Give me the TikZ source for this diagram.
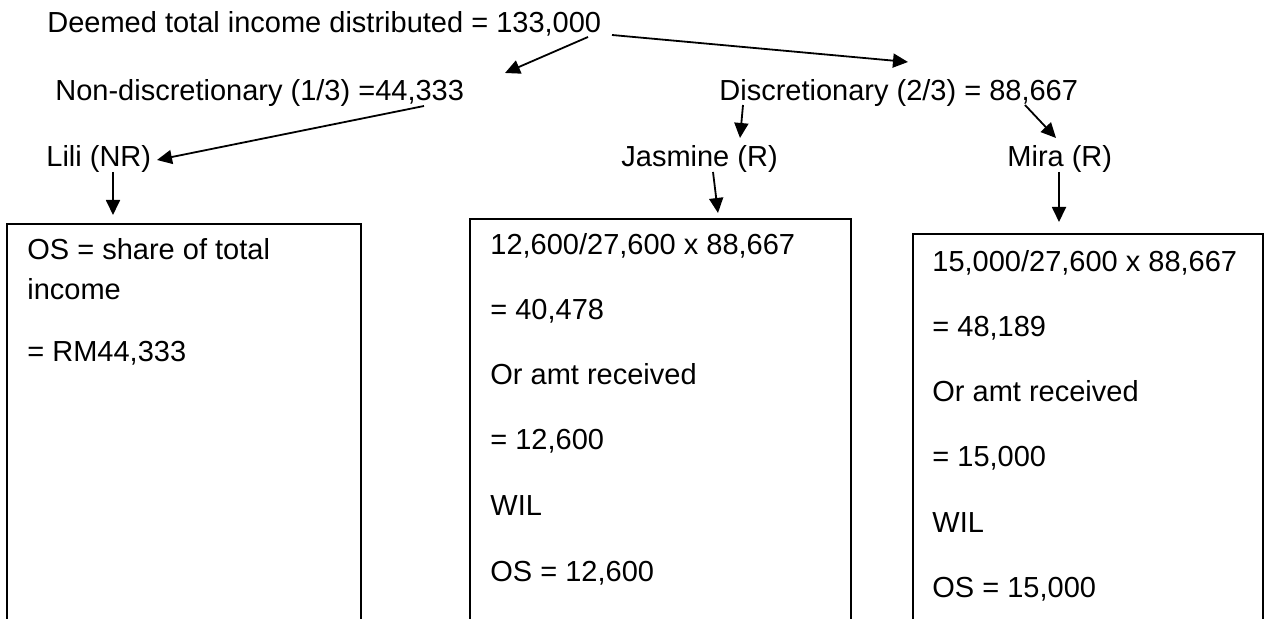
\documentclass[tikz,border=0pt]{standalone}
\usepackage{fontspec}
\setmainfont{Liberation Sans}
\usetikzlibrary{arrows.meta}
\tikzset{
  lbl/.style={anchor=base west, inner sep=0pt, font=\fontsize{14.5pt}{17pt}\selectfont},
  frame/.style={draw, line width=1pt, anchor=north west, minimum height=260pt, inner sep=0pt},
  arr/.style={line width=0.9pt, -{Triangle[length=7.5pt,width=7pt]}},
}
\begin{document}
\begin{tikzpicture}[x=0.5pt,y=-0.5pt]
\useasboundingbox (0,0) rectangle (1264,619);
\clip (0,0) rectangle (1264,619);
\fill[white] (0,0) rectangle (1264,619);

% headings
\node[lbl] (total) at (47,33) {Deemed total income distributed = 133,000};
\node[lbl] (nondisc) at (55,101) {Non-discretionary (1/3) =44,333};
\node[lbl] (disc) at (719,101) {Discretionary (2/3) = 88,667};
\node[lbl] (lili) at (46,167) {Lili (NR)};
\node[lbl] (jasmine) at (621,167) {Jasmine (R)};
\node[lbl] (mira) at (1007,167) {Mira (R)};

% open-bottomed boxes
\node[frame, minimum width=177pt] (box1) at (6,223) {};
\node[frame, minimum width=190.5pt] (box2) at (469,218) {};
\node[frame, minimum width=175pt] (box3) at (912,233) {};

% box 1 text
\node[lbl] (l1a) at (27,260) {OS = share of total};
\node[lbl] (l1b) at (27,300) {income};
\node[lbl] (l1c) at (27,362) {= RM44,333};

% box 2 text
\node[lbl] (j1) at (490,255) {12,600/27,600 x 88,667};
\node[lbl] (j2) at (490,320) {= 40,478};
\node[lbl] (j3) at (490,385) {Or amt received};
\node[lbl] (j4) at (490,450) {= 12,600};
\node[lbl] (j5) at (490,516) {WIL};
\node[lbl] (j6) at (490,582) {OS = 12,600};

% box 3 text
\node[lbl] (m1) at (932,272) {15,000/27,600 x 88,667};
\node[lbl] (m2) at (932,337) {= 48,189};
\node[lbl] (m3) at (932,402) {Or amt received};
\node[lbl] (m4) at (932,467) {= 15,000};
\node[lbl] (m5) at (932,533) {WIL};
\node[lbl] (m6) at (932,598) {OS = 15,000};

% connectors
\draw[arr] ([shift={(541,4)}]total.base west) -- ([shift={(450,-28)}]nondisc.base west);
\draw[arr] ([shift={(565,2)}]total.base west) -- ([shift={(189,-39)}]disc.base west);
\draw[arr] ([shift={(369,5)}]nondisc.base west) -- ([shift={(111,-7)}]lili.base west);
\draw[arr] ([shift={(67,5)}]lili.base west) -- ([shift={(107,-8)}]box1.north west);
\draw[arr] ([shift={(24,4)}]disc.base west) -- ([shift={(119,-29)}]jasmine.base west);
\draw[arr] ([shift={(306,4)}]disc.base west) -- ([shift={(49,-29)}]mira.base west);
\draw[arr] ([shift={(92,5)}]jasmine.base west) -- ([shift={(249,-5)}]box2.north west);
\draw[arr] ([shift={(52,5)}]mira.base west) -- ([shift={(147,-11)}]box3.north west);
\end{tikzpicture}
\end{document}
